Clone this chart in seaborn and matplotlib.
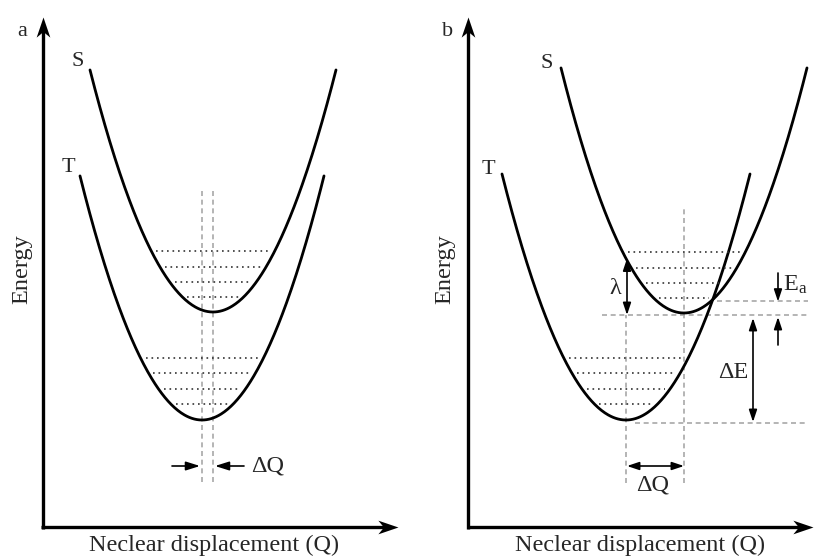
import numpy as np
import pandas as pd
import matplotlib
matplotlib.use("Agg")
import matplotlib.pyplot as plt
from matplotlib.path import Path
import seaborn as sns

sns.set_theme(style="white")
plt.rcParams['font.family'] = ['Liberation Serif', 'DejaVu Serif']
plt.rcParams['mathtext.fontset'] = 'custom'
plt.rcParams['mathtext.rm'] = 'Liberation Serif'
plt.rcParams['mathtext.it'] = 'Liberation Serif:italic'

# ---- schematic data (panel-local units, origin at the axes corner) ----
panels = ["a", "b"]
# singlet (S) and triplet (T) harmonic wells: vertex position, vertex energy, curvature, half range
S_vertex_Q = [170.5, 216.0]
S_vertex_E = [215.0, 214.0]
S_curv = [0.0160, 0.0162]
S_half = [123.0, 123.0]
T_vertex_Q = [159.5, 158.0]
T_vertex_E = [107.0, 107.0]
T_curv = [0.0164, 0.0160]
T_half = [122.0, 124.0]
# vibrational levels (energy above each well minimum)
S_levels = [15, 30, 45, 61]
T_levels = [16, 31, 47, 62]
# text labels
x_label = "Neclear displacement (Q)"
y_label = "Energy"

# ---- build curve table ----
rows = []
for i, p in enumerate(panels):
    for name, q0, e0, k, h in [("S", S_vertex_Q[i], S_vertex_E[i], S_curv[i], S_half[i]),
                               ("T", T_vertex_Q[i], T_vertex_E[i], T_curv[i], T_half[i])]:
        q = np.linspace(q0 - h, q0 + h, 300)
        e = e0 + k * (q - q0) ** 2
        rows.append(pd.DataFrame({"panel": p, "state": name, "Q": q, "E": e}))
df = pd.concat(rows, ignore_index=True)

fig = plt.figure(figsize=(8.15, 5.56), dpi=100)
W, H = 815.0, 556.0
origins = [42.5, 468.0]
x_axis_end = [355.5, 345.0]
base_y = 527.0
ax_a = fig.add_axes([0, 0, 0.5, 1])
ax_b = fig.add_axes([0.5, 0, 0.5, 1])
axes = [ax_a, ax_b]

dash_col = "#a8a8a8"
dot_col = "#333333"
dash_ls = (0, (3, 2.2))
dot_ls = (0, (1, 2.3))
big_fs = 17.5
lab_fs = 16

# stealth arrowheads (tip at the origin)
head_up = Path([(0, 0), (-0.34, -1), (0, -0.72), (0.34, -1), (0, 0)],
               [Path.MOVETO, Path.LINETO, Path.LINETO, Path.LINETO, Path.CLOSEPOLY])
head_right = Path([(0, 0), (-1, 0.34), (-0.72, 0), (-1, -0.34), (0, 0)],
                  [Path.MOVETO, Path.LINETO, Path.LINETO, Path.LINETO, Path.CLOSEPOLY])


def arrow(ax, xy, xytext, style, lw, hl, hw):
    ax.annotate("", xy=xy, xytext=xytext,
                arrowprops=dict(arrowstyle=f"{style},head_length={hl},head_width={hw}",
                                lw=lw, color="black", shrinkA=0, shrinkB=0))


for i, (p, ax) in enumerate(zip(panels, axes)):
    x0 = i * W / 2 - origins[i]
    ax.set_xlim(x0, x0 + W / 2)
    ax.set_ylim(base_y - H, base_y)
    ax.set_axis_off()

    sub = df[df.panel == p]
    sns.lineplot(data=sub, x="Q", y="E", units="state", estimator=None, sort=False,
                 color="black", lw=2.0, ax=ax)

    sq, se, sk = S_vertex_Q[i], S_vertex_E[i], S_curv[i]
    tq, te, tk = T_vertex_Q[i], T_vertex_E[i], T_curv[i]

    # vibrational levels (dotted)
    for q0, e0, k, levels in [(sq, se, sk, S_levels), (tq, te, tk, T_levels)]:
        for lv in levels:
            hw = np.sqrt(lv / k) - 5
            ax.plot([q0 - hw, q0 + hw], [e0 + lv, e0 + lv], color=dot_col,
                    lw=1.2, ls=dot_ls, zorder=2)

    # axes with arrowheads
    y_top = base_y - 17
    xe = x_axis_end[i]
    ax.plot([0, 0], [-1.5, y_top - 10], color="black", lw=2.4, solid_capstyle="butt")
    ax.plot([-1.5, xe - 10], [0, 0], color="black", lw=2.4, solid_capstyle="butt")
    ax.plot([0], [y_top], marker=head_up, ms=29, color="black", mew=0)
    ax.plot([xe], [0], marker=head_right, ms=29, color="black", mew=0)

    ax.text(-21 if i == 0 else -23, 258, y_label, rotation=90, ha="center", va="center",
            fontsize=big_fs)
    ax.text(172, -18, x_label, ha="center", va="center", fontsize=big_fs)
    ax.text(-20.5, 496, p, ha="center", va="center", fontsize=lab_fs)

    if i == 0:
        ax.text(35.5, 465, "S", ha="center", va="center", fontsize=lab_fs)
        ax.text(25.5, 359, "T", ha="center", va="center", fontsize=lab_fs)
        for q in [tq, sq]:
            ax.plot([q, q], [45, 337], color=dash_col, lw=1.2, ls=dash_ls, zorder=1)
        arrow(ax, (tq - 2, 61), (tq - 30, 61), "-|>", 1.2, 0.7, 0.22)
        arrow(ax, (sq + 2, 61), (sq + 31, 61), "-|>", 1.2, 0.7, 0.22)
        ax.text(sq + 38, 61, "ΔQ", ha="left", va="center", fontsize=big_fs)
    else:
        ax.text(79, 464, "S", ha="center", va="center", fontsize=lab_fs)
        ax.text(20, 357, "T", ha="center", va="center", fontsize=lab_fs)
        # crossing point of the two wells
        a2 = sk - tk
        b2 = -2 * sk * sq + 2 * tk * tq
        c2 = sk * sq ** 2 + se - tk * tq ** 2 - te
        qc = (-b2 - np.sqrt(b2 ** 2 - 4 * a2 * c2)) / (2 * a2)
        if not (tq < qc < sq + 80):
            qc = (-b2 + np.sqrt(b2 ** 2 - 4 * a2 * c2)) / (2 * a2)
        ec = se + sk * (qc - sq) ** 2
        s_min = se - 2
        t_min = te - 3
        right = 340
        # vertical dashed guides
        ax.plot([tq, tq], [44, s_min], color=dash_col, lw=1.2, ls=dash_ls, zorder=1)
        ax.plot([sq, sq], [44, 319], color=dash_col, lw=1.2, ls=dash_ls, zorder=1)
        # horizontal dashed guides
        ax.plot([134, right], [s_min, s_min], color=dash_col, lw=1.2, ls=dash_ls, zorder=1)
        ax.plot([qc + 4, right], [ec - 1, ec - 1], color=dash_col, lw=1.2, ls=dash_ls, zorder=1)
        ax.plot([tq + 9, right], [t_min, t_min], color=dash_col, lw=1.2, ls=dash_ls, zorder=1)
        # lambda
        lam_top = se + sk * (tq - sq) ** 2
        arrow(ax, (tq + 1, lam_top), (tq + 1, s_min), "<|-|>", 1.2, 0.6, 0.2)
        ax.text(tq - 11, 239, "λ", ha="center", va="center", fontsize=big_fs)
        # delta E
        arrow(ax, (285, s_min - 3), (285, t_min + 1), "<|-|>", 1.2, 0.6, 0.2)
        ax.text(265, 155, "ΔE", ha="center", va="center", fontsize=big_fs)
        # activation energy
        arrow(ax, (310, ec - 2), (310, 254), "-|>", 1.2, 0.6, 0.2)
        arrow(ax, (310, s_min - 2), (310, 182), "-|>", 1.2, 0.6, 0.2)
        ax.text(315, 242, r"E$_{\mathregular{a}}$", ha="left", va="center", fontsize=big_fs)
        # delta Q
        arrow(ax, (tq + 1, 61), (sq, 61), "<|-|>", 1.2, 0.6, 0.2)
        ax.text((tq + sq) / 2 - 2, 42, "ΔQ", ha="center", va="center", fontsize=big_fs)

fig.savefig("out.png", dpi=100)
